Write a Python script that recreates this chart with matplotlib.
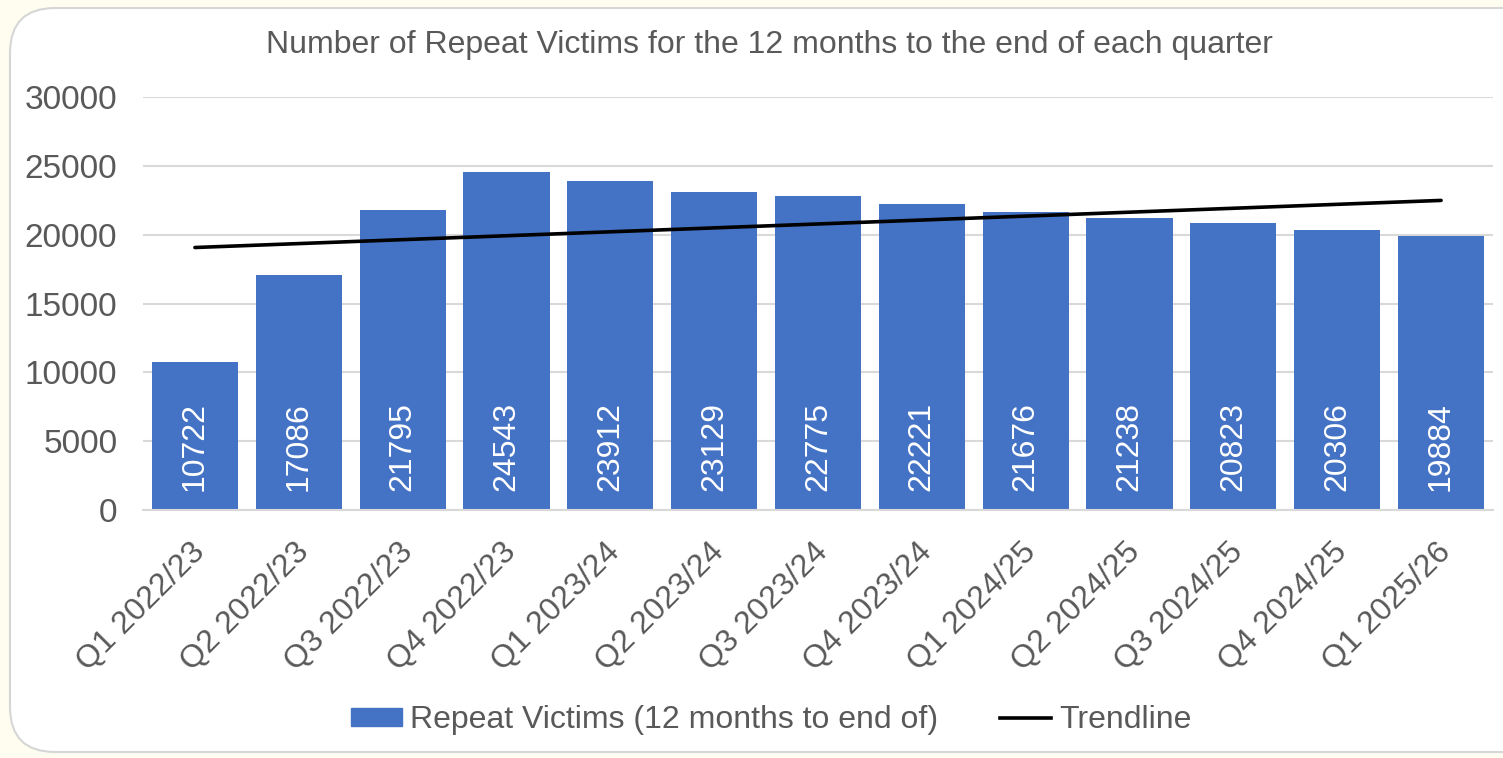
import numpy as np
import matplotlib
matplotlib.use("Agg")
import matplotlib.pyplot as plt
from matplotlib.patches import FancyBboxPatch, Patch
from matplotlib.lines import Line2D
from matplotlib.transforms import ScaledTranslation

plt.rcParams['font.family'] = ['Liberation Sans', 'DejaVu Sans']

categories = ["Q1 2022/23", "Q2 2022/23", "Q3 2022/23", "Q4 2022/23",
              "Q1 2023/24", "Q2 2023/24", "Q3 2023/24", "Q4 2023/24",
              "Q1 2024/25", "Q2 2024/25", "Q3 2024/25", "Q4 2024/25",
              "Q1 2025/26"]
values = [10722, 17086, 21795, 24543, 23912, 23129, 22775, 22221,
          21676, 21238, 20823, 20306, 19884]
yticks = [0, 5000, 10000, 15000, 20000, 25000, 30000]

title = "Number of Repeat Victims for the 12 months to the end of each quarter"
bar_label = "Repeat Victims (12 months to end of)"
trend_label = "Trendline"

BAR = "#4472C4"
TXT = "#595959"
GRID = "#D9D9D9"

W, H = 1503, 758
fig = plt.figure(figsize=(W / 100, H / 100), dpi=100)
fig.patch.set_facecolor("#FFFDF0")

card = FancyBboxPatch((10 / W, 6 / H), (W + 40) / W, (H - 8 - 6) / H,
                      boxstyle="round,pad=0,rounding_size=0.03",
                      transform=fig.transFigure, facecolor="white",
                      edgecolor="#D6D6D6", linewidth=1.5, zorder=-10,
                      mutation_aspect=W / H)
fig.patches.append(card)

ax = fig.add_axes([143 / W, 1 - 510 / H, (1493 - 143) / W, (510 - 97) / H])
ax.set_facecolor("none")
ax.set_zorder(1)

x = np.arange(len(categories))
ax.bar(x, values, width=0.83, color=BAR, zorder=2)

# linear trendline (least squares fit, as Excel does)
coef = np.polyfit(x, values, 1)
trend = np.polyval(coef, x)
ax.plot(x, trend, color="black", lw=2.6, zorder=3, solid_capstyle="round")

for xi, v in zip(x, values):
    ax.annotate(str(v), xy=(xi, 0), xytext=(0, 13.5), textcoords="offset points",
                rotation=90, ha="center", va="bottom", color="white",
                fontsize=23, zorder=4)

ax.set_xlim(-0.5, len(categories) - 0.5)
ax.set_ylim(0, 30000)
ax.set_yticks(yticks)
ax.set_yticklabels([str(t) for t in yticks])
ax.grid(axis="y", color=GRID, lw=1.5, zorder=0)
ax.set_axisbelow(True)
for s in ["top", "right", "left"]:
    ax.spines[s].set_visible(False)
ax.spines["bottom"].set_color(GRID)
ax.spines["bottom"].set_linewidth(1.5)
ax.tick_params(axis="both", length=0, colors=TXT)
ax.tick_params(axis="y", labelsize=24, pad=18.5)
ax.set_xticks(x)
ax.set_xticklabels(categories, rotation=45, ha="right", va="center",
                   rotation_mode="anchor", fontsize=23, color=TXT)
ax.tick_params(axis="x", pad=27)
shift = ScaledTranslation(4 / 72, 0, fig.dpi_scale_trans)
for lab in ax.get_xticklabels():
    lab.set_transform(lab.get_transform() + shift)

fig.text(0.512, 1 - 45 / H, title, ha="center", va="center", fontsize=23,
         color=TXT)

handles = [Patch(facecolor=BAR, edgecolor=BAR),
           Line2D([0], [0], color="black", lw=2.6)]
leg = fig.legend(handles, [bar_label, trend_label], loc="center",
                 bbox_to_anchor=(0.513, 1 - 720 / H), ncol=2, frameon=False,
                 fontsize=23, handlelength=1.6, handleheight=0.5,
                 handletextpad=0.25, columnspacing=1.95)
for t in leg.get_texts():
    t.set_color(TXT)

fig.savefig("out.png", dpi=100, facecolor=fig.get_facecolor())
